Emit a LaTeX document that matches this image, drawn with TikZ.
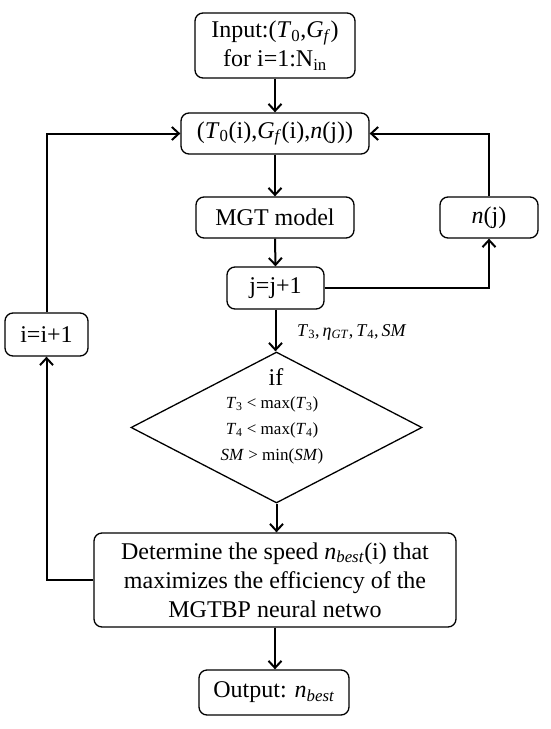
\documentclass[tikz,border=0pt]{standalone}
\usepackage{fontspec}
\setmainfont{Liberation Serif}
\usetikzlibrary{arrows.meta,shapes.geometric}
\newcommand\lo[1]{\textsubscript{#1}}
\begin{document}
\begin{tikzpicture}[x=1pt,y=-1pt,
  box/.style={draw,line width=1.3pt,rounded corners=8pt,inner sep=0pt,align=center,
    font=\fontsize{24}{29}\selectfont},
  conn/.style={line width=2pt,-{Straight Barb[length=7pt,width=13pt,line width=2pt]}},
  plain/.style={line width=2pt},
  small/.style={font=\fontsize{17}{20}\selectfont,inner sep=0pt}]
\useasboundingbox[fill=white] (0,0) rectangle (550,729);
\node[box,minimum width=160pt,minimum height=65pt] (in) at (275,45.5)
  {Input:(\textit{T}\lo{0},\textit{G}\lo{\textit{f}})\\for i=1:N\lo{in}};
\node[box,minimum width=188pt,minimum height=41pt] (p) at (275,133.5)
  {(\textit{T}\lo{0}(i),\textit{G}\lo{\textit{f}}(i),\textit{n}(j))};
\node[box,minimum width=158pt,minimum height=41pt] (mgt) at (275,217.5) {MGT model};
\node[box,minimum width=97pt,minimum height=42pt] (jj) at (275.5,288) {j=j+1};
\node[box,minimum width=98pt,minimum height=41pt] (nj) at (489,217.5) {\textit{n}(j)};
\node[box,minimum width=83pt,minimum height=43pt] (ii) at (46.5,334.5) {i=i+1};
\node[draw,diamond,line width=1.3pt,minimum width=291pt,minimum height=151pt,inner sep=0pt] (dia) at (276.5,427.5) {};
\node[inner sep=0pt,font=\fontsize{24}{29}\selectfont] (if) at (276,377) {if};
\node[small] (c1) at (272,404) {\textit{T}\lo{3} < max(\textit{T}\lo{3})};
\node[small] (c2) at (272,430) {\textit{T}\lo{4} < max(\textit{T}\lo{4})};
\node[small] (c3) at (272,456) {\textit{SM} > min(\textit{SM})};
\node[small,anchor=west,font=\fontsize{18}{20}\selectfont] (lab) at (297,332)
  {\textit{T}\lo{3},\,\textit{η}\lo{\textit{GT}},\,\textit{T}\lo{4},\,\textit{SM}};
\node[box,minimum width=362pt,minimum height=94pt] (det) at (275,580)
  {Determine the speed \textit{n}\lo{\textit{best}}(i) that\\maximizes the efficiency of the\\MGTBP neural netwo};
\node[box,minimum width=150pt,minimum height=45pt] (out) at (274,692.5)
  {Output: \textit{n}\lo{\textit{best}}};
\draw[conn] (in.south) -- (p.north);
\draw[conn] (p.south) -- (mgt.north);
\draw[conn] (mgt.south) -- (jj.north);
\draw[conn] (jj.east) -- (nj.south |- jj.east) -- (nj.south);
\draw[conn] (nj.north) -- (nj.north |- p.east) -- (p.east);
\draw[conn] (jj.south) -- (jj.south |- dia.north);
\draw[conn] (dia.south) -- (dia.south |- det.north);
\draw[conn] (det.west) -- (ii.south |- det.west) -- (ii.south);
\draw[conn] (ii.north) -- (ii.north |- p.west) -- (p.west);
\draw[conn] (det.south) -- (det.south |- out.north);
\end{tikzpicture}
\end{document}
